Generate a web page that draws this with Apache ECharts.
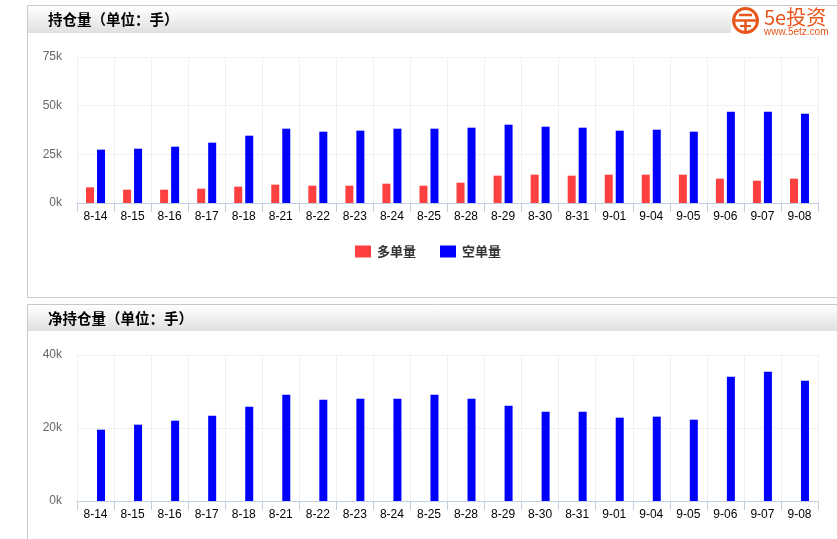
<!DOCTYPE html>
<html>
<head>
<meta charset="utf-8">
<script src="https://cdn.jsdelivr.net/npm/echarts@6/dist/echarts.min.js"></script>
<style>
html,body{margin:0;padding:0;background:#fff;}
#chart{width:837px;height:539px;}
</style>
</head>
<body>
<div id="chart"></div>
<script>
// ---- data ----
const categories = ['8-14','8-15','8-16','8-17','8-18','8-21','8-22','8-23','8-24','8-25','8-28','8-29','8-30','8-31','9-01','9-04','9-05','9-06','9-07','9-08'];
const longVolume  = [8050, 6850, 6850, 7360, 8390, 9420, 8900, 8900, 9930, 8900, 10440, 14040, 14550, 14040, 14550, 14550, 14550, 12500, 11470, 12500];
const shortVolume = [27400, 27900, 28930, 30990, 34580, 38180, 36640, 37150, 38180, 38180, 38690, 40230, 39200, 38690, 37150, 37660, 36640, 46910, 46910, 45890];
const netVolume   = [19540, 20910, 22010, 23380, 25840, 29130, 27760, 28040, 28040, 29130, 28040, 26120, 24470, 24470, 22830, 23110, 22280, 34060, 35430, 32970];
const netPlaceholder = [];
const topTicks = [0, 25000, 50000, 75000];
const bottomTicks = [0, 20000, 40000];
const seriesNames = ['多单量', '空单量'];
const panelTitles = ['持仓量（单位：手）', '净持仓量（单位：手）'];

const chart = echarts.init(document.getElementById('chart'), null, {renderer: 'canvas'});

const RED = '#FF4040';
const BLUE = '#0000FF';
const AXIS = '#C0D0E0';
const GRIDC = '#F0F0F2';
const ORANGE = '#E8561C';

function xAxisCfg(gridIndex) {
  return {
    type: 'category', gridIndex: gridIndex, data: categories, boundaryGap: true,
    axisLine: {show: true, lineStyle: {color: AXIS, width: 1}},
    axisTick: {show: true, length: 9, lineStyle: {color: AXIS}},
    axisLabel: {color: '#000', fontSize: 12, fontFamily: 'Liberation Sans, Arial, sans-serif', margin: 8, interval: 0},
    splitLine: {show: true, lineStyle: {color: GRIDC, width: 1}}
  };
}
function yAxisCfg(gridIndex, ticks) {
  return {
    type: 'value', gridIndex: gridIndex, min: ticks[0], max: ticks[ticks.length - 1],
    interval: ticks[1] - ticks[0],
    axisLine: {show: false}, axisTick: {show: false},
    axisLabel: {color: '#666', fontSize: 12, fontFamily: 'Liberation Sans, Arial, sans-serif', margin: 15,
      formatter: v => (v / 1000) + 'k'},
    splitLine: {show: true, lineStyle: {color: GRIDC, width: 1}}
  };
}

function headerGradient() {
  return new echarts.graphic.LinearGradient(0, 0, 0, 1, [
    {offset: 0, color: '#ffffff'}, {offset: 1, color: '#e0e0e0'}
  ]);
}

const graphics = [
  // top panel
  {type: 'rect', z: -10, shape: {x: 27.5, y: 5.5, width: 830, height: 292}, style: {fill: '#fff', stroke: '#c8c8c8', lineWidth: 1}},
  {type: 'rect', z: -9, shape: {x: 28, y: 6, width: 830, height: 27}, style: {fill: headerGradient()}},
  {type: 'text', z: 5, x: 48, y: 19, style: {text: panelTitles[0], font: 'bold 14.5px "Noto Sans CJK SC", sans-serif', fill: '#000', verticalAlign: 'middle'}},
  // bottom panel
  {type: 'rect', z: -10, shape: {x: 27.5, y: 304.5, width: 830, height: 260}, style: {fill: '#fff', stroke: '#c8c8c8', lineWidth: 1}},
  {type: 'rect', z: -9, shape: {x: 28, y: 305, width: 830, height: 26}, style: {fill: headerGradient()}},
  {type: 'text', z: 5, x: 48, y: 318, style: {text: panelTitles[1], font: 'bold 14.5px "Noto Sans CJK SC", sans-serif', fill: '#000', verticalAlign: 'middle'}},
  // logo
  {type: 'rect', z: -8, shape: {x: 731, y: 6, width: 106, height: 32}, style: {fill: '#fff'}},
  {type: 'circle', z: 5, shape: {cx: 745.5, cy: 20.5, r: 12}, style: {fill: 'none', stroke: ORANGE, lineWidth: 3}},
  {type: 'line', z: 5, shape: {x1: 733, y1: 20.5, x2: 758, y2: 20.5}, style: {stroke: ORANGE, lineWidth: 2.5}},
  {type: 'line', z: 5, shape: {x1: 739, y1: 15, x2: 752, y2: 15}, style: {stroke: ORANGE, lineWidth: 2.5}},
  {type: 'line', z: 5, shape: {x1: 745.5, y1: 20.5, x2: 745.5, y2: 31}, style: {stroke: ORANGE, lineWidth: 2.5}},
  {type: 'line', z: 5, shape: {x1: 740, y1: 26, x2: 751, y2: 26}, style: {stroke: ORANGE, lineWidth: 2}},
  {type: 'text', z: 5, x: 764, y: 17.5, style: {text: '5e投资', font: '20px "Noto Sans CJK SC", sans-serif', fill: ORANGE, verticalAlign: 'middle'}},
  {type: 'text', z: 5, x: 764, y: 32.5, style: {text: 'www.5etz.com', font: '10px "Liberation Sans", Arial, sans-serif', fill: ORANGE, verticalAlign: 'middle'}}
];

const option = {
  animation: false,
  backgroundColor: '#fff',
  graphic: graphics,
  legend: {
    data: seriesNames, left: 355, top: 245, padding: 0, itemWidth: 16, itemHeight: 12, itemGap: 24,
    icon: 'rect', selectedMode: false,
    textStyle: {color: '#333', fontSize: 13, fontWeight: 'bold', fontFamily: '"Noto Sans CJK SC", sans-serif', padding: [0, 0, 0, 1]}
  },
  grid: [
    {left: 77, top: 57, width: 741, height: 146, containLabel: false},
    {left: 77, top: 355, width: 741, height: 146, containLabel: false}
  ],
  xAxis: [xAxisCfg(0), xAxisCfg(1)],
  yAxis: [yAxisCfg(0, topTicks), yAxisCfg(1, bottomTicks)],
  series: [
    {name: seriesNames[0], type: 'bar', xAxisIndex: 0, yAxisIndex: 0, data: longVolume, barWidth: 8, barGap: '37.5%', itemStyle: {color: RED}},
    {name: seriesNames[1], type: 'bar', xAxisIndex: 0, yAxisIndex: 0, data: shortVolume, barWidth: 8, barGap: '37.5%', itemStyle: {color: BLUE}},
    {name: 'placeholder', type: 'bar', xAxisIndex: 1, yAxisIndex: 1, data: netPlaceholder, barWidth: 8, barGap: '37.5%', itemStyle: {color: 'rgba(0,0,0,0)'}},
    {name: '净持仓', type: 'bar', xAxisIndex: 1, yAxisIndex: 1, data: netVolume, barWidth: 8, barGap: '37.5%', itemStyle: {color: BLUE}}
  ]
};
chart.setOption(option);
</script>
</body>
</html>
